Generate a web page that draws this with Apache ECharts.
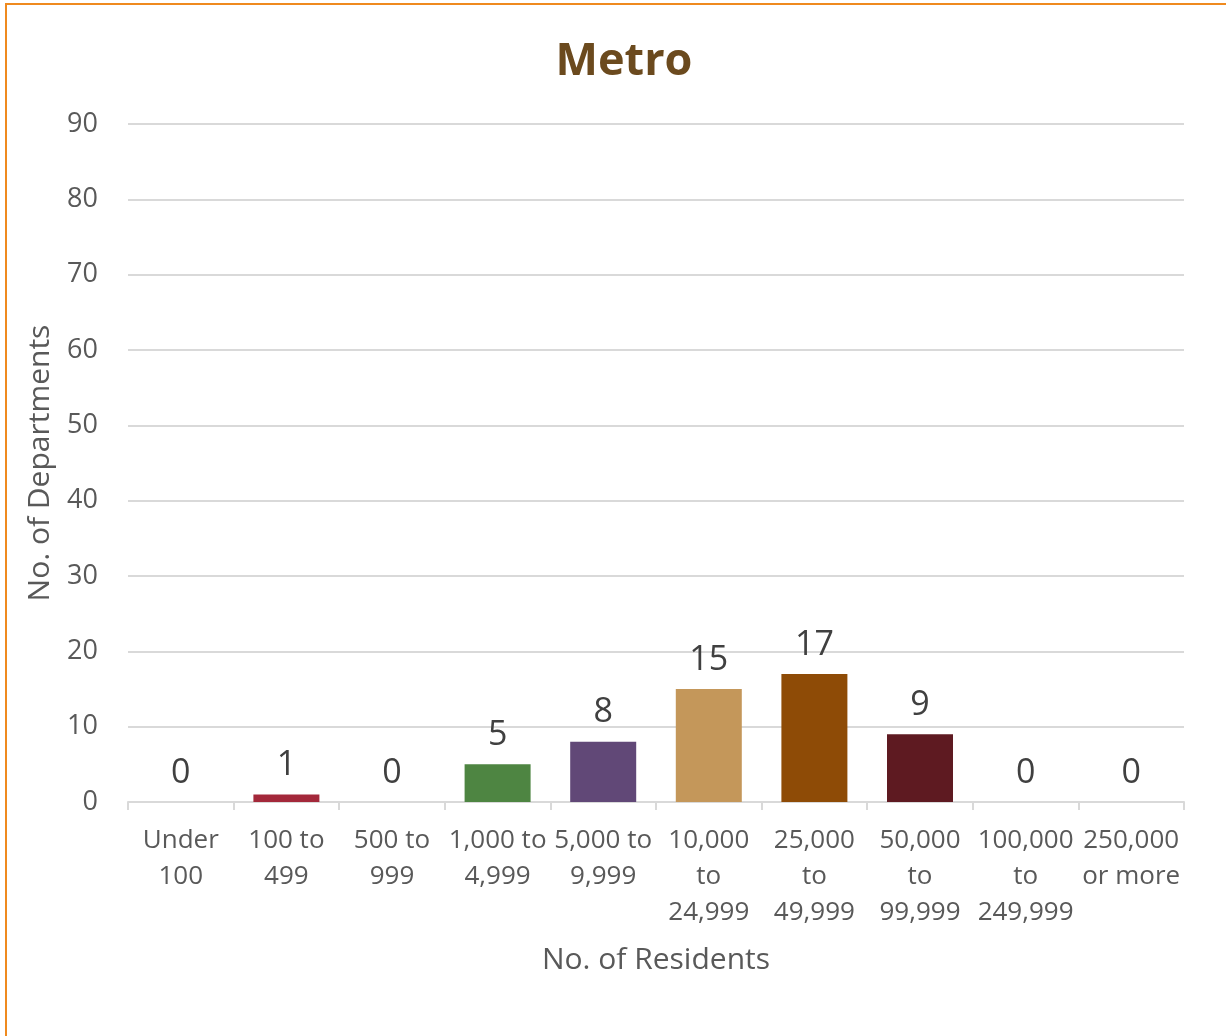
<!DOCTYPE html>
<html>
<head>
<meta charset="utf-8">
<script src="https://cdn.jsdelivr.net/npm/echarts@6/dist/echarts.min.js"></script>
<style>
html,body{margin:0;padding:0;background:#fff;overflow:hidden;}
#frame{position:absolute;left:5px;top:3px;width:1400px;height:1200px;border-left:2px solid #EF8A1F;border-top:2px solid #EF8A1F;box-sizing:border-box;pointer-events:none;z-index:2;}
#chart{position:absolute;left:0;top:0;width:1226px;height:1036px;}
</style>
</head>
<body>
<div id="chart"></div>
<div id="frame"></div>
<script>
const categories = ["Under\n100", "100 to\n499", "500 to\n999", "1,000 to\n4,999", "5,000 to\n9,999", "10,000\nto\n24,999", "25,000\nto\n49,999", "50,000\nto\n99,999", "100,000\nto\n249,999", "250,000\nor more"];
const departments = [0, 1, 0, 5, 8, 15, 17, 9, 0, 0];
const barColors = ["#8C8C8C", "#A3283A", "#8C8C8C", "#4E8542", "#614877", "#C4975A", "#8E4B06", "#5E1A21", "#8C8C8C", "#8C8C8C"];
const yTicks = [0, 10, 20, 30, 40, 50, 60, 70, 80, 90];

const FONT = "Open Sans";
const chart = echarts.init(document.getElementById('chart'), null, {renderer: 'canvas'});
chart.setOption({
  animation: false,
  backgroundColor: '#fff',
  title: {
    text: 'Metro', left: 619, top: 35, textAlign: 'center',
    textStyle: {fontFamily: FONT, fontSize: 45, fontWeight: 'bold', color: '#6B4A1E'}
  },
  grid: {left: 128, right: 42, top: 124, bottom: 234, containLabel: false},
  xAxis: {
    type: 'category', data: categories,
    name: 'No. of Residents', nameLocation: 'middle', nameGap: 143,
    nameTextStyle: {fontFamily: FONT, fontSize: 30, color: '#595959'},
    axisLine: {lineStyle: {color: '#D9D9D9', width: 2}},
    axisTick: {show: true, length: 8, lineStyle: {color: '#D9D9D9', width: 2}},
    axisLabel: {fontFamily: FONT, fontSize: 26, color: '#595959', lineHeight: 36, margin: 21, interval: 0}
  },
  yAxis: {
    type: 'value', min: 0, max: 90, interval: 10,
    name: 'No. of Departments', nameLocation: 'middle', nameGap: 73,
    nameTextStyle: {fontFamily: FONT, fontSize: 30, color: '#595959'},
    axisLine: {show: false}, axisTick: {show: false},
    axisLabel: {fontFamily: FONT, fontSize: 27, color: '#595959', margin: 30,
      formatter: v => yTicks.includes(v) ? String(v) : ''},
    splitLine: {lineStyle: {color: '#D9D9D9', width: 2}}
  },
  series: [{
    type: 'bar', data: departments.map((v, i) => ({value: v, itemStyle: {color: barColors[i]}})),
    barWidth: 66,
    label: {show: true, position: 'top', distance: 12, fontFamily: FONT, fontSize: 34, color: '#404040'}
  }]
});
</script>
</body>
</html>
